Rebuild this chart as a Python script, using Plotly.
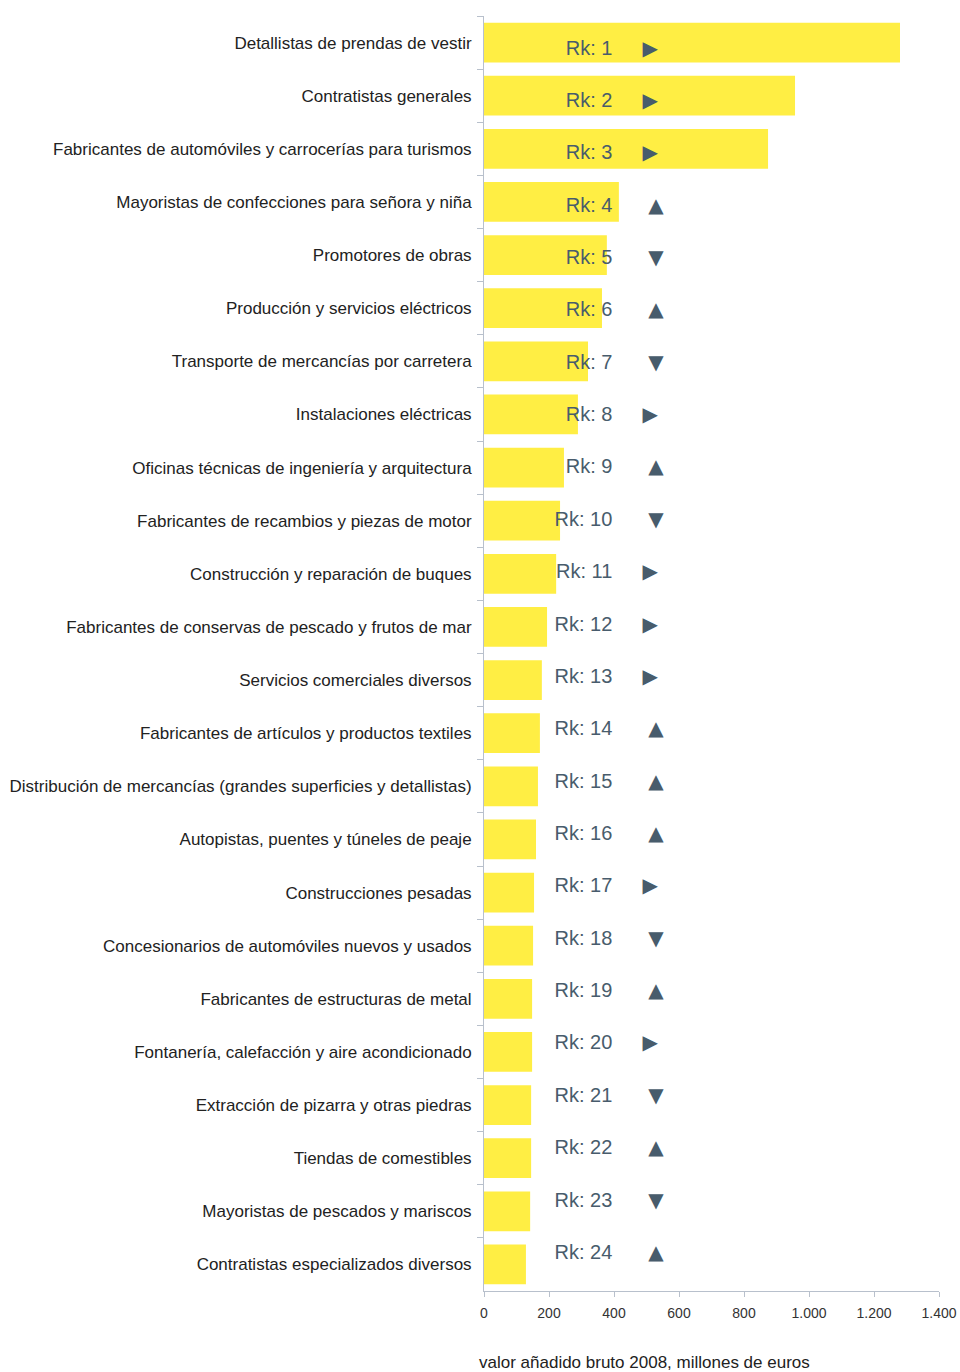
import plotly.graph_objects as go

categories = [
    "Detallistas de prendas de vestir",
    "Contratistas generales",
    "Fabricantes de automóviles y carrocerías para turismos",
    "Mayoristas de confecciones para señora y niña",
    "Promotores de obras",
    "Producción y servicios eléctricos",
    "Transporte de mercancías por carretera",
    "Instalaciones eléctricas",
    "Oficinas técnicas de ingeniería y arquitectura",
    "Fabricantes de recambios y piezas de motor",
    "Construcción y reparación de buques",
    "Fabricantes de conservas de pescado y frutos de mar",
    "Servicios comerciales diversos",
    "Fabricantes de artículos y productos textiles",
    "Distribución de mercancías (grandes superficies y detallistas)",
    "Autopistas, puentes y túneles de peaje",
    "Construcciones pesadas",
    "Concesionarios de automóviles nuevos y usados",
    "Fabricantes de estructuras de metal",
    "Fontanería, calefacción y aire acondicionado",
    "Extracción de pizarra y otras piedras",
    "Tiendas de comestibles",
    "Mayoristas de pescados y mariscos",
    "Contratistas especializados diversos",
]
values = [1280, 957, 874, 415, 378, 363, 320, 289, 246, 234, 222, 194,
          178, 172, 166, 160, 154, 151, 148, 148, 145, 145, 142, 129]
ranks = list(range(1, 25))
trend = ["right", "right", "right", "up", "down", "up", "down", "right",
         "up", "down", "right", "right", "right", "up", "up", "up",
         "right", "down", "up", "right", "down", "up", "down", "up"]
x_ticks = [0, 200, 400, 600, 800, 1000, 1200, 1400]
x_title = "valor añadido bruto 2008, millones de euros"

BAR = "#FFEE44"
INK = "#485C6C"
AXIS = "#B8C0CC"
FONT = "Liberation Sans"

fig = go.Figure()
fig.add_trace(go.Bar(
    y=categories, x=values, orientation="h",
    marker=dict(color=BAR, line=dict(width=0)),
    hoverinfo="x+y", showlegend=False,
))

rank_labels = [f"Rk: {r}" for r in ranks]
fig.add_trace(go.Scatter(
    x=[395] * len(ranks), y=ranks, yaxis="y2", mode="text",
    text=rank_labels, textposition="middle left",
    textfont=dict(family=FONT, size=20, color=INK),
    showlegend=False, hoverinfo="skip",
))

glyph_map = {"right": "\u25B6", "up": "\u25B2", "down": "\u25BC"}
xpos_map = {"right": 511, "up": 529, "down": 529}
fig.add_trace(go.Scatter(
    x=[xpos_map[t] for t in trend], y=ranks, yaxis="y2", mode="text",
    text=[glyph_map[t] for t in trend], textposition="middle center",
    textfont=dict(family="DejaVu Sans", size=20, color=INK),
    showlegend=False, hoverinfo="skip",
))

fig.add_annotation(
    text=x_title, xref="paper", yref="paper", x=0, y=0,
    xanchor="left", yanchor="middle", xshift=-7, yshift=-71,
    showarrow=False, font=dict(family=FONT, size=17, color="#222222"),
)

fig.update_layout(
    width=960, height=1372,
    margin=dict(l=484, r=21, t=16, b=81, pad=0),
    paper_bgcolor="white", plot_bgcolor="white",
    separators=",.",
    bargap=0.25,
    font=dict(family=FONT, color="#222222"),
    xaxis=dict(
        range=[0, 1400], tickvals=x_ticks,
        tickformat=",d", automargin=False,
        showgrid=False, zeroline=False,
        showline=True, linecolor=AXIS, linewidth=1,
        ticks="outside", ticklen=5, tickcolor=AXIS,
        tickfont=dict(size=14, color="#333333"),
        ticklabelstandoff=4,
    ),
    yaxis=dict(
        autorange="reversed", type="category", automargin=False,
        showgrid=False, zeroline=False,
        showline=True, linecolor=AXIS, linewidth=1,
        ticks="outside", ticklen=6, tickcolor=AXIS, tickson="boundaries",
        tickfont=dict(size=17, color="#222222"),
        ticklabelstandoff=8,
    ),
    yaxis2=dict(
        overlaying="y", range=[24.708, 0.360], visible=False,
        showgrid=False, zeroline=False, automargin=False,
    ),
)

fig.write_html("out.html", config={"displayModeBar": False},
               post_script="document.body.style.margin='0';")
